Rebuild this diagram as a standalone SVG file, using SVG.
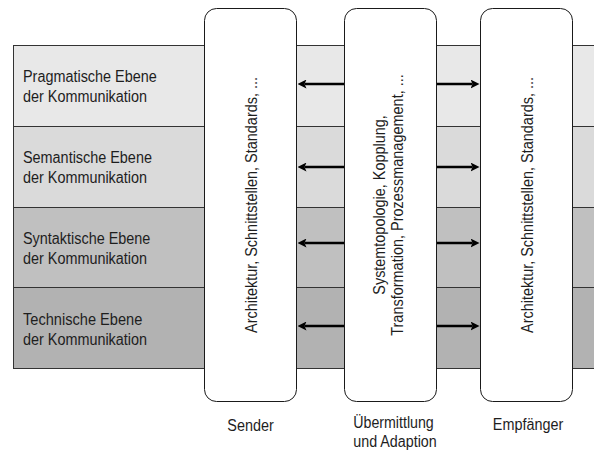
<svg xmlns="http://www.w3.org/2000/svg" width="594" height="452" viewBox="0 0 594 452">
  <style>
    .band { stroke: #333333; stroke-width: 1; }
    .box { fill: #ffffff; stroke: #1a1a1a; stroke-width: 1; }
    .lbl { font-family: "Liberation Sans", Arial, sans-serif; font-size: 16px; fill: #1e1e1e; }
    .mid { text-anchor: middle; }
    .conn { stroke: #000000; stroke-width: 2.5; fill: none; marker-end: url(#head); }
  </style>
  <defs>
    <marker id="head" viewBox="0 0 9 9" markerWidth="9" markerHeight="9" refX="2" refY="4.5" orient="auto" markerUnits="userSpaceOnUse">
      <path d="M0,0 L9,4.5 L0,9 L2,4.5 z" fill="#000000"/>
    </marker>
  </defs>
  <rect x="0" y="0" width="594" height="452" fill="#ffffff"/>

  <g id="band-pragmatisch">
    <rect class="band" x="13.5" y="45.5" width="600" height="81" fill="#e8e8e8"/>
    <text class="lbl" x="23" y="82" textLength="133.7" lengthAdjust="spacingAndGlyphs">Pragmatische Ebene</text>
    <text class="lbl" x="23" y="102" textLength="124" lengthAdjust="spacingAndGlyphs">der Kommunikation</text>
  </g>
  <g id="band-semantisch">
    <rect class="band" x="13.5" y="126.5" width="600" height="81" fill="#dadada"/>
    <text class="lbl" x="23" y="163" textLength="128.9" lengthAdjust="spacingAndGlyphs">Semantische Ebene</text>
    <text class="lbl" x="23" y="183" textLength="124" lengthAdjust="spacingAndGlyphs">der Kommunikation</text>
  </g>
  <g id="band-syntaktisch">
    <rect class="band" x="13.5" y="207.5" width="600" height="80" fill="#c0c0c0"/>
    <text class="lbl" x="23" y="244" textLength="127.3" lengthAdjust="spacingAndGlyphs">Syntaktische Ebene</text>
    <text class="lbl" x="23" y="264" textLength="124" lengthAdjust="spacingAndGlyphs">der Kommunikation</text>
  </g>
  <g id="band-technisch">
    <rect class="band" x="13.5" y="287.5" width="600" height="81" fill="#b2b2b2"/>
    <text class="lbl" x="23" y="325" textLength="119.3" lengthAdjust="spacingAndGlyphs">Technische Ebene</text>
    <text class="lbl" x="23" y="345" textLength="124" lengthAdjust="spacingAndGlyphs">der Kommunikation</text>
  </g>

  <g id="sender">
    <rect class="box" x="204.5" y="8.5" width="92" height="393" rx="12" ry="12"/>
    <text class="lbl mid" transform="translate(257,205) rotate(-90)" textLength="256" lengthAdjust="spacingAndGlyphs">Architektur, Schnittstellen, Standards, ...</text>
    <text class="lbl mid" x="250.5" y="431" textLength="46.4" lengthAdjust="spacingAndGlyphs">Sender</text>
  </g>
  <g id="uebermittlung">
    <rect class="box" x="344.5" y="8.5" width="92" height="393" rx="12" ry="12"/>
    <text class="lbl mid" transform="translate(385,205) rotate(-90)" textLength="179.3" lengthAdjust="spacingAndGlyphs">Systemtopologie, Kopplung,</text>
    <text class="lbl mid" transform="translate(403,205) rotate(-90)" textLength="261.5" lengthAdjust="spacingAndGlyphs">Transformation, Prozessmanagement, ...</text>
    <text class="lbl mid" x="393.5" y="428" textLength="80.5" lengthAdjust="spacingAndGlyphs">Übermittlung</text>
    <text class="lbl mid" x="395" y="447" textLength="83.5" lengthAdjust="spacingAndGlyphs">und Adaption</text>
  </g>
  <g id="empfaenger">
    <rect class="box" x="480.5" y="8.5" width="92" height="393" rx="12" ry="12"/>
    <text class="lbl mid" transform="translate(533,205) rotate(-90)" textLength="256" lengthAdjust="spacingAndGlyphs">Architektur, Schnittstellen, Standards, ...</text>
    <text class="lbl mid" x="528" y="430" textLength="70.4" lengthAdjust="spacingAndGlyphs">Empfänger</text>
  </g>

  <g id="connectors">
    <line class="conn" x1="344" y1="84" x2="304.5" y2="84"/>
    <line class="conn" x1="344" y1="167" x2="304.5" y2="167"/>
    <line class="conn" x1="344" y1="243" x2="304.5" y2="243"/>
    <line class="conn" x1="344" y1="326" x2="304.5" y2="326"/>
    <line class="conn" x1="437" y1="84" x2="472.5" y2="84"/>
    <line class="conn" x1="437" y1="167" x2="472.5" y2="167"/>
    <line class="conn" x1="437" y1="243" x2="472.5" y2="243"/>
    <line class="conn" x1="437" y1="326" x2="472.5" y2="326"/>
  </g>
</svg>
